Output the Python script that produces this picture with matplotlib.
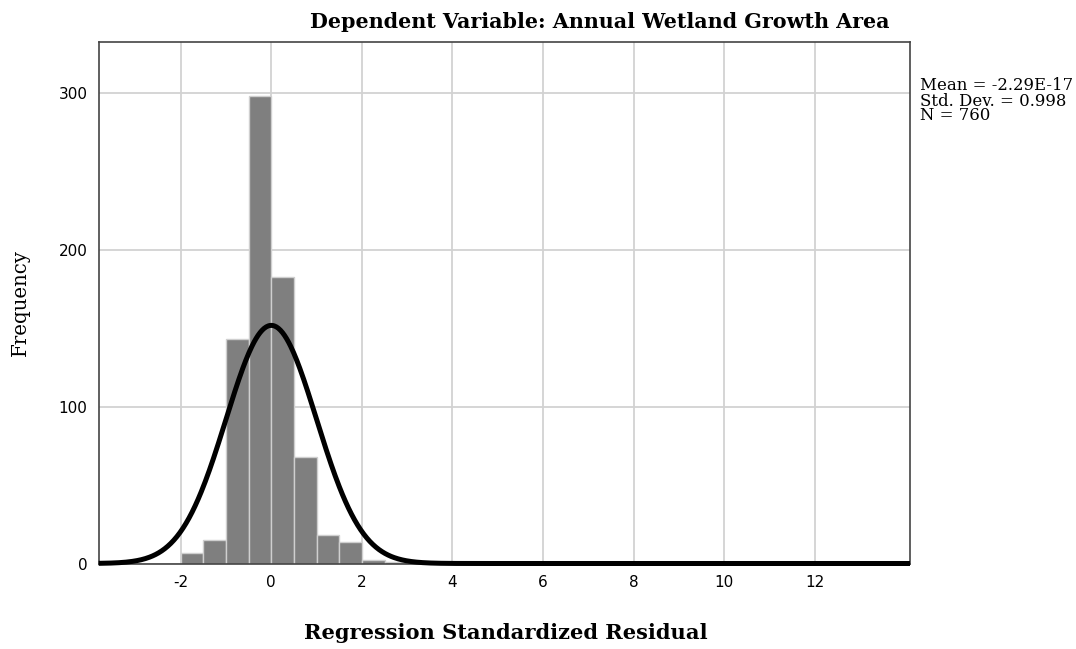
import numpy as np
import matplotlib
matplotlib.use("Agg")
import matplotlib.pyplot as plt

plt.rcParams["axes.unicode_minus"] = False

# histogram of standardized residuals, bin width 0.5
bin_left = [-2.0, -1.5, -1.0, -0.5, 0.0, 0.5, 1.0, 1.5, 2.0, 2.5, 3.0, 3.5, 4.5, 5.5, 7.0, 8.5, 10.0, 11.5, 13.0]
counts   = [7, 15, 143, 298, 183, 68, 18, 14, 2, 1, 1, 1, 1, 1, 1, 1, 1, 1, 1]
bin_width = 0.5
mean, sd, n = -2.29e-17, 0.998, 760
stats = ["Mean = -2.29E-17", "Std. Dev. = 0.998", "N = 760"]

x_ticks = [-2, 0, 2, 4, 6, 8, 10, 12]
y_ticks = [0, 100, 200, 300]

W, H = 1076, 649
fig = plt.figure(figsize=(W/100, H/100), dpi=100)
ax = fig.add_axes([98.7/W, 1-563.5/H, (910-98.7)/W, (563.5-42)/H])

ax.set_xlim(-3.81, 14.10)
ax.set_ylim(0, 332.7)
ax.set_xticks(x_ticks)
ax.set_yticks(y_ticks)
ax.grid(True, color="#d2d2d2", lw=1.3, zorder=0)
ax.set_axisbelow(True)
ax.tick_params(length=0, labelsize=11, pad=8)
for s in ax.spines.values():
    s.set_color("#444444"); s.set_linewidth(1.2)

ax.bar(bin_left, counts, width=bin_width, align="edge", color="#7f7f7f",
       edgecolor="#cfcfcf", linewidth=1.0, zorder=2)

xs = np.linspace(-3.81, 14.10, 800)
ys = n * bin_width / (sd * np.sqrt(2 * np.pi)) * np.exp(-0.5 * ((xs - mean) / sd) ** 2)
ax.plot(xs, ys, color="black", lw=3.6, zorder=3, solid_capstyle="butt", clip_on=False)

serif = ["DejaVu Serif"]
def px(x, y): return x/W, 1-y/H

texts = []  # (text artist, target size in px along its reading direction)
t = fig.text(*px(600, 22), "Dependent Variable: Annual Wetland Growth Area",
             ha="center", va="center", family=serif, weight="bold", fontsize=13)
texts.append((t, 579, False))
t = fig.text(*px(506, 633), "Regression Standardized Residual",
             ha="center", va="center", family=serif, weight="bold", fontsize=15)
texts.append((t, 405, False))
t = fig.text(*px(20, 303), "Frequency", rotation=90,
             ha="center", va="center", family=serif, fontsize=13)
texts.append((t, 107, True))
for i, line in enumerate(stats):
    t = fig.text(*px(920, 86 + 15*i), line, ha="left", va="center", family=serif, fontsize=10)
    texts.append((t, 152 if i == 0 else None, False))

# scale fonts so text spans match the reference
fig.canvas.draw()
r = fig.canvas.get_renderer()
stat_scale = None
for t, target, vert in texts:
    if target is None:
        continue
    bb = t.get_window_extent(r)
    k = target / (bb.height if vert else bb.width)
    t.set_fontsize(t.get_fontsize() * k)
    if t.get_text() == stats[0]:
        stat_scale = t.get_fontsize()
for t, target, vert in texts:
    if target is None:
        t.set_fontsize(stat_scale)

fig.savefig("out.png", dpi=100)
